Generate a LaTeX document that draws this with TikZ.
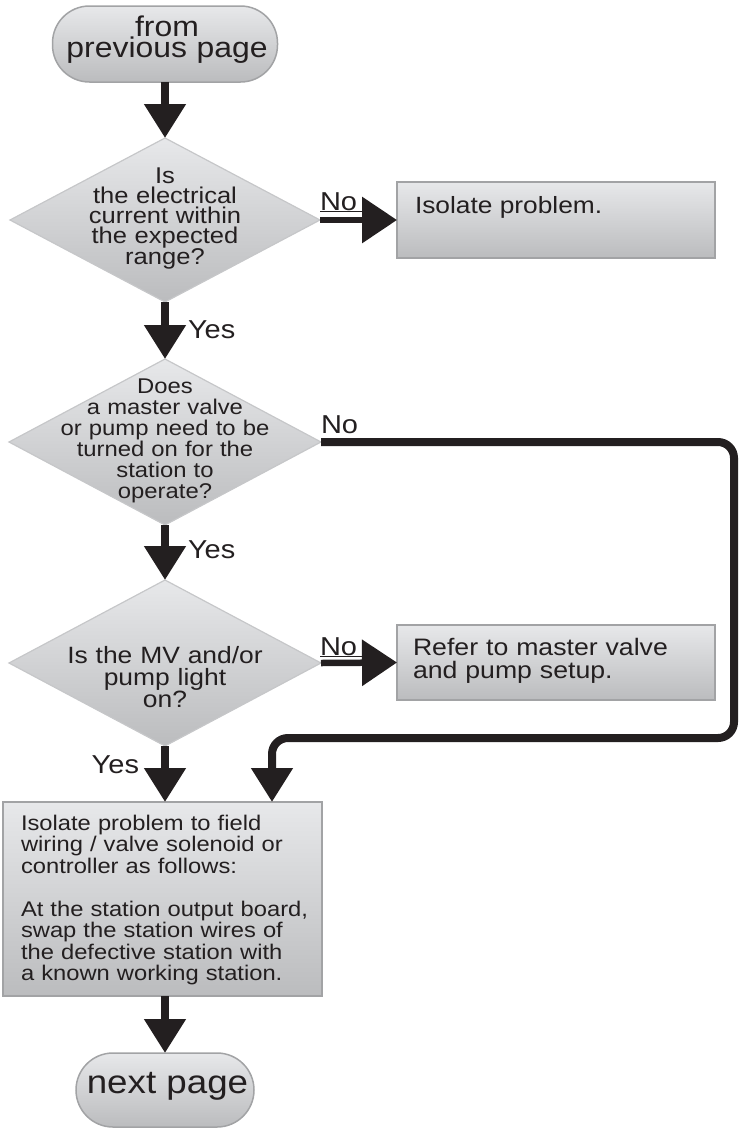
\documentclass[tikz,border=0pt]{standalone}
\usepackage{fontspec}
\setmainfont[FakeStretch=1.12]{Liberation Sans}
\usetikzlibrary{arrows.meta,shapes.geometric}
\definecolor{ink}{HTML}{231F20}
\definecolor{fillTop}{HTML}{E7E8EA}
\definecolor{fillBot}{HTML}{BBBCBE}
\definecolor{edge}{HTML}{A2A3A5}
\definecolor{dedge}{HTML}{C6C7C9}
\lineskiplimit=-100pt
\tikzset{
  every node/.style={inner sep=0pt, outer sep=0pt, text=ink},
  termbox/.style={rectangle, rounded corners=37pt, top color=fillTop, bottom color=fillBot, draw=edge, line width=1.5pt},
  stepbox/.style={rectangle, top color=fillTop, bottom color=fillBot, draw=edge, line width=1.8pt},
  decbox/.style={diamond, top color=fillTop, bottom color=fillBot, draw=dedge, line width=1.2pt},
  arrV/.style={draw=ink, line width=8pt, -{Triangle[length=34pt,width=40pt]}},
  arrH/.style={draw=ink, line width=6.5pt, -{Triangle[length=35pt,width=45pt]}},
  lbl/.style={font=\fontsize{25.9}{28}\selectfont},
  uline/.style={draw=ink, line width=1.3pt},
}
\begin{document}
\begin{tikzpicture}[x=1pt,y=-1pt]
\useasboundingbox (0,0) rectangle (741,1128);

% shapes
\node[termbox, minimum width=225pt, minimum height=76pt] (t1) at (165,44) {};
\node[decbox, minimum width=310pt, minimum height=164pt] (d1) at (165,220) {};
\node[stepbox, minimum width=318pt, minimum height=76pt] (b1) at (556,220) {};
\node[decbox, minimum width=312pt, minimum height=166pt] (d2) at (165,442) {};
\node[decbox, minimum width=312pt, minimum height=166pt] (d3) at (165,663) {};
\node[stepbox, minimum width=318pt, minimum height=75pt] (b3) at (556,662.5) {};
\node[stepbox, minimum width=319pt, minimum height=194pt] (b2) at (162.5,899) {};
\node[termbox, minimum width=178pt, minimum height=74pt] (t2) at (165,1090) {};

% texts
\node[anchor=base, text width=230pt, align=center, font=\fontsize{28.5}{21}\selectfont] (t1txt) at (167,36) {from\\previous page};
\node[anchor=base, text width=200pt, align=center, font=\fontsize{22.8}{20}\selectfont] (d1txt) at (165,183) {Is\\the electrical\\current within\\the expected\\range?};
\node[anchor=base west, font=\fontsize{23.5}{26}\selectfont] (b1txt) at (415,213) {Isolate problem.};
\node[anchor=base, text width=220pt, align=center, font=\fontsize{21.3}{21}\selectfont] (d2txt) at (165,393) {Does\\a master valve\\or pump need to be\\turned on for the\\station to\\operate?};
\node[anchor=base, text width=220pt, align=center, font=\fontsize{23.6}{22}\selectfont] (d3txt) at (165,663) {Is the MV and/or\\pump light\\on?};
\node[anchor=base west, text width=295pt, align=left, font=\fontsize{23.8}{23}\selectfont] (b3txt) at (413,655) {Refer to master valve\\and pump setup.};
\node[anchor=base west, text width=300pt, align=left, font=\fontsize{21.2}{21.5}\selectfont] (b2txt) at (21,830) {Isolate problem to field\\wiring / valve solenoid or\\controller as follows:\\[21.5pt]At the station output board,\\swap the station wires of\\the defective station with\\a known working station.};
\node[anchor=base, font=\fontsize{32.8}{36}\selectfont] (t2txt) at (167.5,1093) {next page};

% labels
\node[lbl, anchor=base west] (no1) at (320,210) {No};
\node[lbl, anchor=base west] (no2) at (321,433) {No};
\node[lbl, anchor=base west] (no3) at (320,655) {No};
\node[lbl, anchor=base west] (yes1) at (188,338) {Yes};
\node[lbl, anchor=base west] (yes2) at (188,558) {Yes};
\node[lbl, anchor=base east] (yes3) at (139,773) {Yes};
\draw[uline] ([yshift=-1.2pt]no1.base west) -- ([xshift=6pt,yshift=-1.2pt]no1.base east);
\draw[uline] ([yshift=-1.2pt]no3.base west) -- ([xshift=6pt,yshift=-1.2pt]no3.base east);

% connectors
\coordinate (r1) at (734,738);
\coordinate (k) at (272,738);
\draw[arrV] (t1.south) -- (d1.north);
\draw[arrH] (d1.east) -- (b1.west);
\draw[arrV] (d1.south) -- (d2.north);
\draw[arrV, rounded corners=16pt] (d2.east) -- (d2.east -| r1) -- (r1) -- (k) -- (k |- b2.north);
\draw[arrV] (d2.south) -- (d3.north);
\draw[arrH] (d3.east) -- (b3.west);
\draw[arrV] (d3.south) -- (d3.south |- b2.north);
\draw[arrV] (b2.south -| t2) -- (t2.north);
\end{tikzpicture}
\end{document}
